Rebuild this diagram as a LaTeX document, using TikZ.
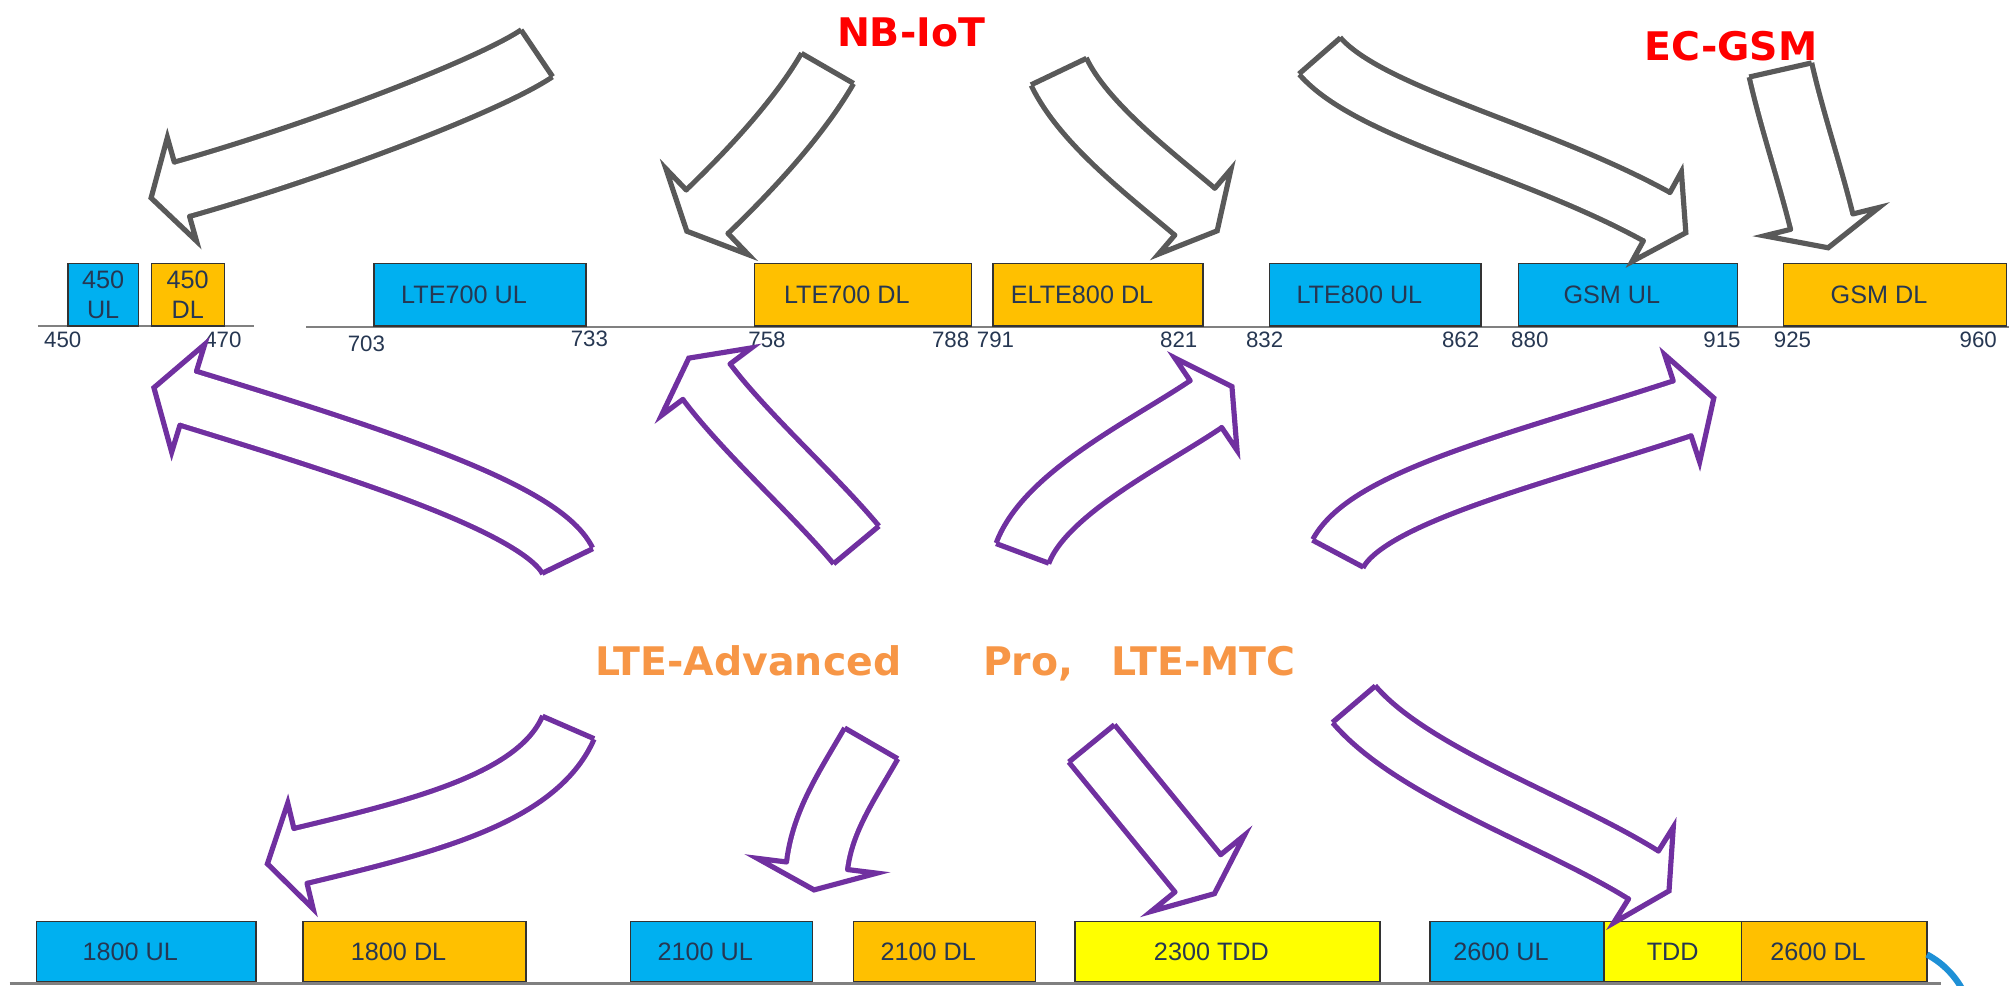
\documentclass[tikz,border=0pt]{standalone}
\usepackage{fontspec}
\setmainfont{Liberation Sans}
\newfontfamily\titrefont{DejaVu Sans}
\usetikzlibrary{calc}

\definecolor{cbleu}{RGB}{0,176,240}
\definecolor{cor}{RGB}{255,192,0}
\definecolor{cjaune}{RGB}{255,255,0}
\definecolor{fgris}{RGB}{89,89,89}
\definecolor{fviolet}{RGB}{112,48,160}
\definecolor{ctexte}{RGB}{38,55,82}
\definecolor{caxe}{RGB}{128,128,128}
\definecolor{crouge}{RGB}{255,0,0}
\definecolor{ctitre}{RGB}{247,150,70}
\definecolor{clogo}{RGB}{30,144,214}

\newcommand{\epaisseur}{2.3pt}
% fleche epaisse : couleur, queue, controle 1, controle 2, base de la pointe, demi-largeur, demi-pointe, longueur de la pointe
\newcommand{\fleche}[8]{%
	\draw[#1, line width=\epaisseur, double=white, double distance={2*#6-\epaisseur}] (#2) .. controls (#3) and (#4) .. (#5) -- ($(#5)!-2pt!(#4)$);
	\draw[#1, line width=\epaisseur, line cap=square] ($(#2)!#6!90:(#3)$) -- ($(#2)!#6!-90:(#3)$);
	\filldraw[#1, fill=white, line width=\epaisseur, line cap=round] ($(#5)!#6!90:(#4)$) -- ($(#5)!#7!90:(#4)$) -- ($(#5)!-#8!(#4)$) -- ($(#5)!#7!-90:(#4)$) -- ($(#5)!#6!-90:(#4)$);
}

\begin{document}
\begin{tikzpicture}[x=0.02cm, y=-0.02cm,
	bande/.style={draw=black!80, line width=0.6pt, minimum height=0.98cm, inner sep=0pt, text=ctexte, font=\fontsize{11.2}{13.4}\selectfont},
	decal/.style={execute at end node={\hspace*{0.5cm}}},
	freq/.style={inner sep=0pt, text=ctexte, font=\fontsize{9.9}{11}\selectfont},
	axe/.style={draw=caxe, line width=0.9pt},
	titre/.style={inner sep=0pt, anchor=base, font=\titrefont\bfseries\fontsize{17.5}{20}\selectfont}]
	\useasboundingbox (0,0) rectangle (1568,769);
	% axes des frequences
	\draw[axe] (29.6,254.5)--(198,254.5);
	\draw[axe] (239,255)--(1568,255);
	\draw[axe, line width=1.2pt] (7.5,767.5)--(1515,767.5);
	% bandes du haut
	\node[bande, fill=cbleu, minimum width=1.10cm, align=center] (ul450) at (80.5,230) {450\\UL};
	\node[bande, fill=cor, minimum width=1.14cm, align=center] (dl450) at (146.5,230) {450\\DL};
	\node[bande, decal, fill=cbleu, minimum width=3.31cm] (ul700) at (374.7,230) {LTE700 UL};
	\node[bande, decal, fill=cor, minimum width=3.38cm] (dl700) at (673.5,230) {LTE700 DL};
	\node[bande, decal, fill=cor, minimum width=3.28cm] (dl800e) at (857,230) {ELTE800 DL};
	\node[bande, decal, fill=cbleu, minimum width=3.30cm] (ul800) at (1073.5,230) {LTE800 UL};
	\node[bande, decal, fill=cbleu, minimum width=3.42cm] (ulgsm) at (1270.5,230) {GSM UL};
	\node[bande, decal, fill=cor, minimum width=3.48cm] (dlgsm) at (1479,230) {GSM DL};
	% bandes du bas
	\node[bande, decal, fill=cbleu, minimum width=3.43cm, minimum height=0.94cm] (ul1800) at (114.2,742.5) {1800 UL};
	\node[bande, decal, fill=cor, minimum width=3.48cm, minimum height=0.94cm] (dl1800) at (323.6,742.5) {1800 DL};
	\node[bande, decal, fill=cbleu, minimum width=2.84cm, minimum height=0.94cm] (ul2100) at (563,742.5) {2100 UL};
	\node[bande, decal, fill=cor, minimum width=2.84cm, minimum height=0.94cm] (dl2100) at (737,742.5) {2100 DL};
	\node[bande, decal, fill=cjaune, minimum width=4.76cm, minimum height=0.94cm] (tdd2300) at (958,742.5) {2300 TDD};
	\node[bande, decal, fill=cbleu, minimum width=2.72cm, minimum height=0.94cm] (ul2600) at (1184,742.5) {2600 UL};
	\node[bande, fill=cjaune, minimum width=2.14cm, minimum height=0.94cm] (tdd2600) at (1305.5,742.5) {TDD};
	\node[bande, decal, fill=cor, minimum width=2.9cm, minimum height=0.94cm] (dl2600) at (1431.5,742.5) {2600 DL};
	% frequences (MHz)
	\node[freq] (f450) at (49,265) {450};
	\node[freq] (f470) at (174,265) {470};
	\node[freq] (f703) at (286,268) {703};
	\node[freq] (f733) at (460,264.5) {733};
	\node[freq] (f758) at (598.6,265) {758};
	\node[freq] (f788) at (742,265) {788};
	\node[freq] (f791) at (777,265) {791};
	\node[freq] (f821) at (920,265) {821};
	\node[freq] (f832) at (987,265) {832};
	\node[freq] (f862) at (1140,265) {862};
	\node[freq] (f880) at (1194,265) {880};
	\node[freq] (f915) at (1344,265) {915};
	\node[freq] (f925) at (1399,265) {925};
	\node[freq] (f960) at (1544,265) {960};
	% fleches grises
	\fleche{fgris}{419,41.6}{381.7,66.8}{247.6,118}{142,147.7}{0.44cm}{0.84cm}{0.5cm}
	\fleche{fgris}{645.9,53.4}{623.4,92.4}{584.3,134.1}{551.9,165.2}{0.47cm}{0.93cm}{0.44cm}
	\fleche{fgris}{826.3,55.9}{845.7,96.5}{898.3,136}{932.5,165.2}{0.48cm}{0.87cm}{0.46cm}
	\fleche{fgris}{1030,43.6}{1069.4,88.8}{1196.5,116}{1293,169.1}{0.43cm}{0.8cm}{0.52cm}
	\fleche{fgris}{1389.6,54.6}{1398.4,93.6}{1412.2,134.2}{1421.8,173}{0.5cm}{0.92cm}{0.42cm}
	% fleches violettes
	\fleche{fviolet}{443,437.8}{423.3,397.3}{290.3,354.8}{146.9,310.8}{0.44cm}{0.88cm}{0.56cm}
	\fleche{fviolet}{668.3,425.3}{636.3,386.8}{581.4,337.9}{551.4,297.9}{0.46cm}{0.88cm}{0.46cm}
	\fleche{fviolet}{798,431.9}{815.5,384.9}{895.5,346.2}{941.2,315.4}{0.44cm}{0.87cm}{0.49cm}
	\fleche{fviolet}{1044.2,432.1}{1067.7,387.9}{1189.4,359}{1312.9,318.7}{0.45cm}{0.88cm}{0.52cm}
	\fleche{fviolet}{443.6,567.8}{419.6,623}{331.7,644.7}{234.5,668}{0.44cm}{0.85cm}{0.53cm}
	\fleche{fviolet}{680,580.2}{660,614.8}{642,641}{637.7,675.7}{0.48cm}{0.94cm}{0.38cm}
	\fleche{fviolet}{852,580.2}{877.3,611.2}{909.6,650.6}{934.9,681.6}{0.46cm}{0.94cm}{0.41cm}
	\fleche{fviolet}{1056.7,549.6}{1102.1,602.9}{1214.7,640.5}{1282.7,682.9}{0.44cm}{0.88cm}{0.47cm}
	% textes
	\node[titre, text=crouge] (nbiot) at (711,36.5) {NB-IoT};
	\node[titre, text=crouge] (ecgsm) at (1351,47) {EC-GSM};
	\node[titre, text=ctitre] (ltea) at (584,527) {LTE-Advanced};
	\node[titre, text=ctitre] (pro) at (802.5,527) {Pro,};
	\node[titre, text=ctitre] (ltemtc) at (939.5,527) {LTE-MTC};
	% logo
	\draw[clogo, line width=2.8pt] (1472,805) ++(-62:68) arc[start angle=-62, end angle=-26, radius=68];
\end{tikzpicture}
\end{document}
